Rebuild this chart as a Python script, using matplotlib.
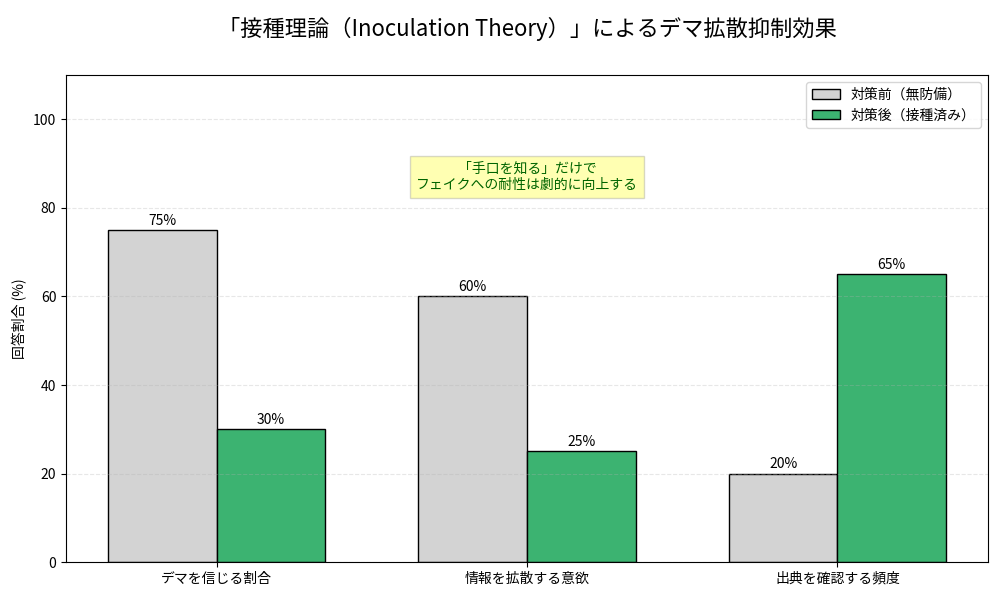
import numpy as np
import matplotlib.pyplot as plt

plt.rcParams['font.family'] = ['Noto Sans CJK JP', 'DejaVu Sans']

# データ
categories = ['デマを信じる割合', '情報を拡散する意欲', '出典を確認する頻度']
before = [75, 60, 20]
after = [30, 25, 65]
labels = ['対策前（無防備）', '対策後（接種済み）']

x = np.arange(len(categories))
width = 0.35

fig, ax = plt.subplots(figsize=(10, 6), dpi=100)
fig.subplots_adjust(left=0.066, right=0.988, top=0.875, bottom=0.063)

b1 = ax.bar(x - width / 2, before, width, label=labels[0], color='lightgray', edgecolor='black')
b2 = ax.bar(x + width / 2, after, width, label=labels[1], color='mediumseagreen', edgecolor='black')

# 棒の上に数値
for bars in (b1, b2):
    for bar in bars:
        h = bar.get_height()
        ax.text(bar.get_x() + bar.get_width() / 2, h + 0.5, f'{h:.0f}%',
                ha='center', va='bottom', fontsize=10)

ax.set_ylabel('回答割合 (%)')
ax.set_title('「接種理論（Inoculation Theory）」によるデマ拡散抑制効果', fontsize=16, pad=28)
ax.set_xticks(x)
ax.set_xticklabels(categories, fontsize=10)
ax.set_ylim(0, 110)
ax.legend(loc='upper right')
ax.grid(axis='y', linestyle='--', alpha=0.3)

ax.text(1, 87, '「手口を知る」だけで\nフェイクへの耐性は劇的に向上する',
        ha='center', va='center', fontsize=10, color='darkgreen',
        bbox=dict(facecolor='yellow', alpha=0.3, edgecolor='gray'))

plt.savefig('out.png')
